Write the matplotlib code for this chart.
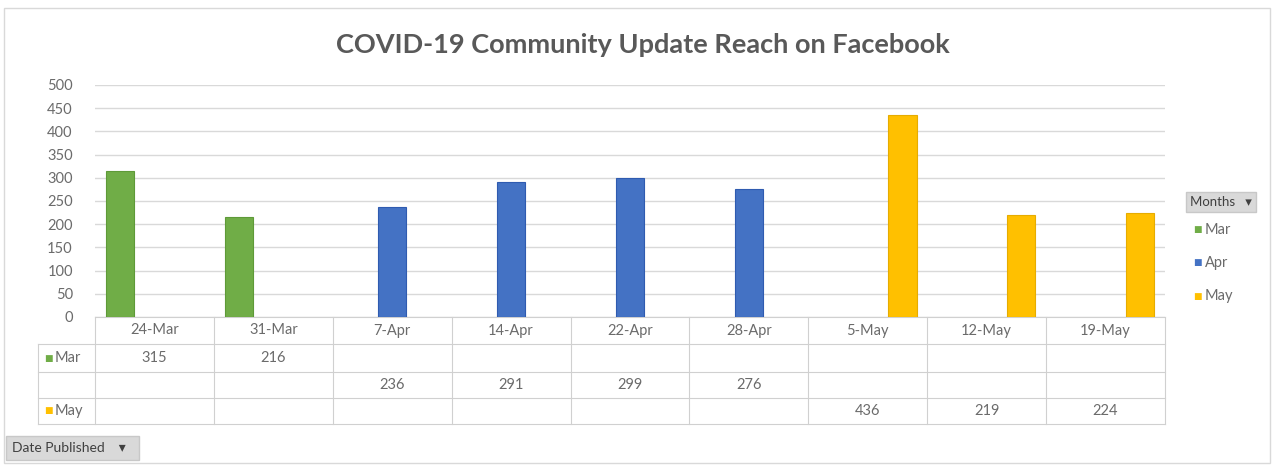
import matplotlib.pyplot as plt
import matplotlib.transforms as mtransforms
import numpy as np

plt.rcParams['font.family'] = ['Lato', 'DejaVu Sans']

dates = ['24-Mar', '31-Mar', '7-Apr', '14-Apr', '22-Apr', '28-Apr', '5-May', '12-May', '19-May']
months = ['Mar', 'Apr', 'May']
mar = [315, 216, None, None, None, None, None, None, None]
apr = [None, None, 236, 291, 299, 276, None, None, None]
may = [None, None, None, None, None, None, 436, 219, 224]
series = [mar, apr, may]
colors = ['#70AD47', '#4472C4', '#FFC000']
edge = ['#5E9A38', '#2F5BB0', '#E6AC00']

txt = '#6B6B6B'
grid = '#D9D9D9'
fs = 10.5

fig = plt.figure(figsize=(12.76, 4.67), dpi=100)
ax = fig.add_axes([95/1276, 1 - 317/467, 1070/1276, 232/467])

x = np.arange(len(dates))
width = 0.24
offs = [-0.29, 0.0, 0.29]
for vals, c, e, o in zip(series, colors, edge, offs):
    xs = [xi + o for xi, v in zip(x, vals) if v is not None]
    hs = [v for v in vals if v is not None]
    ax.bar(xs, hs, width=width, color=c, edgecolor=e, linewidth=0.8, zorder=3)

ax.set_xlim(-0.5, len(dates) - 0.5)
ax.set_ylim(0, 500)
ax.set_yticks(np.arange(0, 501, 50))
ax.yaxis.grid(True, color=grid, linewidth=1, zorder=0)
ax.set_xticks([])
for s in ax.spines.values():
    s.set_visible(False)
ax.tick_params(axis='y', length=0, labelsize=fs, labelcolor=txt, pad=16)

# data table below the plot
tr = mtransforms.blended_transform_factory(ax.transData, ax.transAxes)
px = 1 / 232  # one pixel in axes units (vertical)
row_y = [0, -27 * px, -55 * px, -81 * px, -107 * px]
left = -0.5 - 57 / 118.9
right = len(dates) - 0.5
lc = '#D0D0D0'
ax.plot([-0.5, right], [row_y[0]] * 2, color=lc, lw=0.8, transform=tr, clip_on=False)
for y in row_y[1:]:
    ax.plot([left, right], [y] * 2, color=lc, lw=0.8, transform=tr, clip_on=False)
ax.plot([left, left], [row_y[1], row_y[4]], color=lc, lw=0.8, transform=tr, clip_on=False)
for i in range(len(dates) + 1):
    ax.plot([i - 0.5] * 2, [row_y[0], row_y[4]], color=lc, lw=0.8, transform=tr, clip_on=False)

for i, d in enumerate(dates):
    ax.text(i, (row_y[0] + row_y[1]) / 2, d, transform=tr, ha='center', va='center',
            fontsize=fs, color=txt)
for r, (vals, m, c) in enumerate(zip(series, months, colors)):
    yc = (row_y[r + 1] + row_y[r + 2]) / 2
    if m != 'Apr':
        ax.text(left + 0.05, yc, '\u25A0', transform=tr, ha='left', va='center',
                fontsize=6.5, color=c, family='DejaVu Sans')
        ax.text(left + 0.14, yc, m, transform=tr, ha='left', va='center',
                fontsize=fs, color=txt)
    for i, v in enumerate(vals):
        if v is not None:
            ax.text(i, yc, str(v), transform=tr, ha='center', va='center',
                    fontsize=fs, color=txt)

fig.text(643/1276, 1 - 45/467, 'COVID-19 Community Update Reach on Facebook',
         ha='center', va='center', fontsize=19.5, fontweight='bold', color='#595959')

# legend (pivot field buttons)
fig.text(1190/1276, 1 - 202/467, 'Months   \u25BE', ha='left', va='center', fontsize=9.5,
         color='#404040', bbox=dict(boxstyle='square,pad=0.3', fc='#D9D9D9', ec='#C8C8C8'))
for j, (m, c) in enumerate(zip(months, colors)):
    yy = 1 - (230 + j * 33) / 467
    fig.text(1193/1276, yy, '\u25A0', ha='left', va='center', fontsize=6.5, color=c,
             family='DejaVu Sans')
    fig.text(1205/1276, yy, m, ha='left', va='center', fontsize=fs, color=txt)

fig.text(12/1276, 1 - 448/467, 'Date Published    \u25BE  ', ha='left', va='center', fontsize=10,
         color='#404040', bbox=dict(boxstyle='square,pad=0.45', fc='#D9D9D9', ec='#C8C8C8'))

# faint chart border
fig.add_artist(plt.Rectangle((4/1276, 4/467), 1266/1276, 1 - 12/467, transform=fig.transFigure,
                             fill=False, ec='#D9D9D9', lw=1))

fig.savefig('out.png', dpi=100, facecolor='white')
